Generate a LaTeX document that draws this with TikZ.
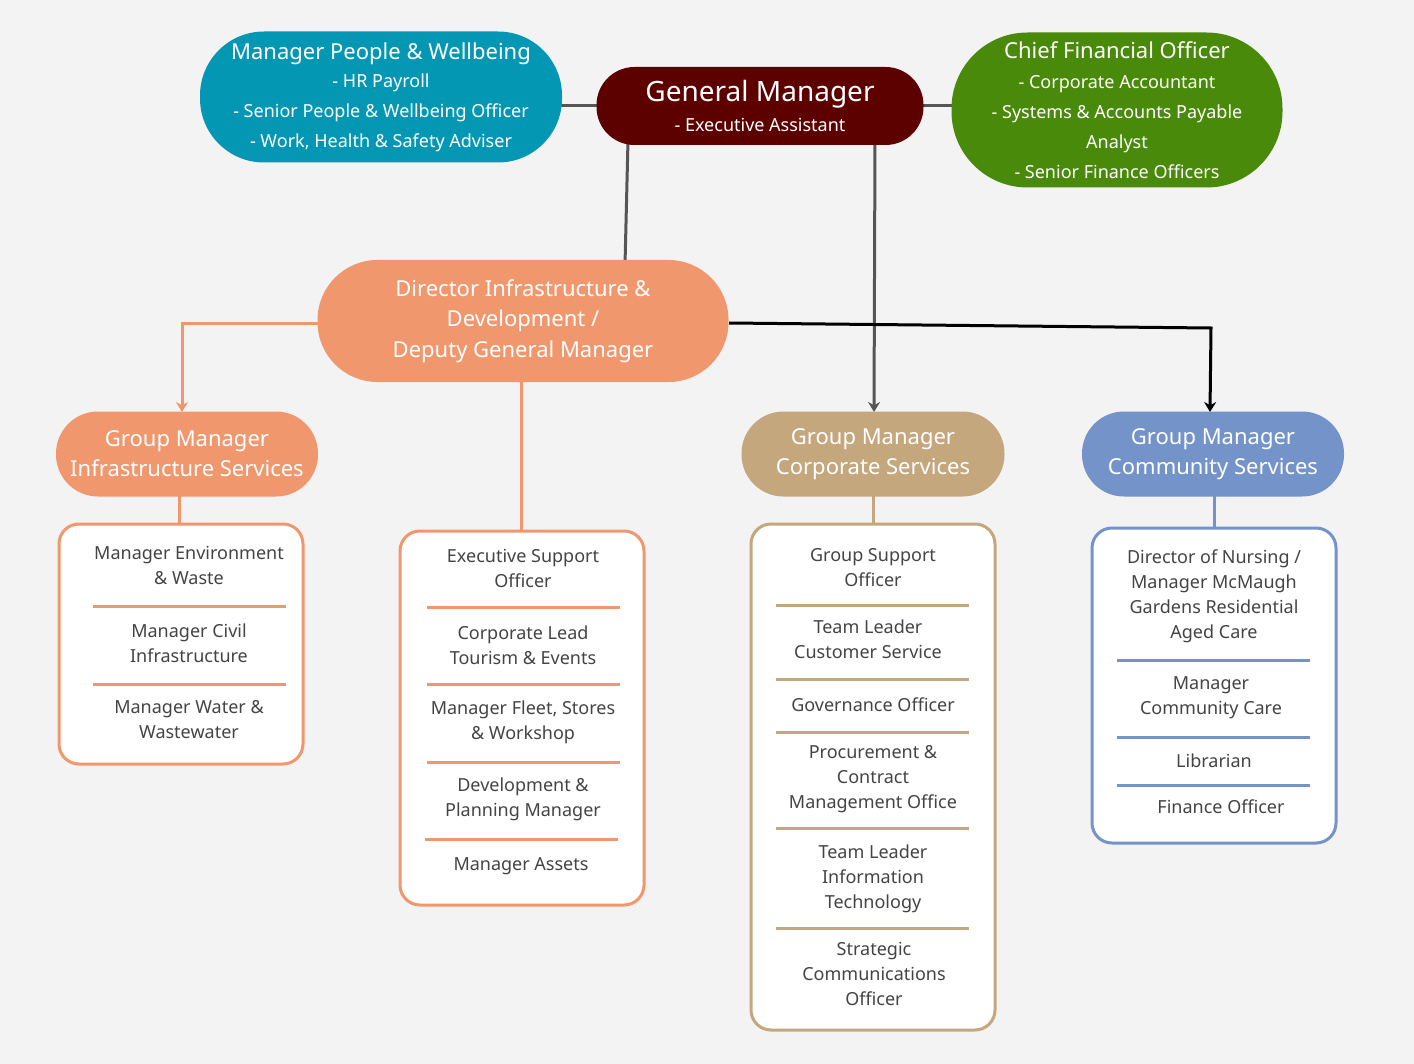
\documentclass[tikz,border=0pt]{standalone}
\usepackage{fontspec}
\setmainfont{Noto Sans}
\usetikzlibrary{arrows.meta}
\definecolor{bg}{HTML}{F3F3F3}
\definecolor{teal}{HTML}{0497B4}
\definecolor{maroon}{HTML}{5C0000}
\definecolor{grn}{HTML}{4A8A0A}
\definecolor{salmon}{HTML}{F0976E}
\definecolor{tan}{HTML}{C4A77D}
\definecolor{blu}{HTML}{7393C9}
\definecolor{txt}{HTML}{444444}
\definecolor{conn}{HTML}{555555}
\begin{document}
\begin{tikzpicture}[x=0.5pt,y=-0.5pt,
  pill/.style={draw=none,text=white,align=center,inner sep=0pt,font=\fontsize{11}{15}\selectfont},
  box/.style={draw=#1,line width=1.5pt,fill=white,rounded corners=10pt},
  sep/.style={draw=#1,line width=1.5pt},
  it/.style={text=txt,align=center,font=\fontsize{9}{12.5}\selectfont},
  con/.style={draw=conn,line width=1.5pt},
  arr/.style={-{Stealth[length=5pt,width=6pt]}}]
\useasboundingbox[fill=bg] (0,0) rectangle (1414,1064);
% connectors first
\coordinate (c1) at (628,140);
\coordinate (c2) at (625,265);
\coordinate (c3) at (875,140);
\coordinate (c4) at (729,323);
\coordinate (c5) at (1211,328);
\coordinate (c6) at (323,324);
\coordinate (c7) at (182,324);
\draw[con] (480,106) -- (1050,106);
\draw[con] (c1) -- (c2);
\draw[con,arr] (c3) -- (874,412);
\draw[black,line width=1.5pt,arr] (c4) -- (c5) -- (1210,412);
\draw[salmon,line width=1.5pt,arr] (c6) -- (c7) -- (182,412);
\draw[salmon,line width=1.5pt] (521,380) -- (521,531);
\draw[salmon,line width=1.5pt] (179,495) -- (179,524);
\draw[tan,line width=1.5pt] (873,495) -- (873,524);
\draw[blu,line width=1.5pt] (1214,495) -- (1214,528);
% top nodes
\node[pill,fill=teal,minimum width=181pt,minimum height=65.5pt,rounded corners=32pt] (mpw) at (381,97)
 {{\fontsize{11}{14}\selectfont Manager People \& Wellbeing}\\[-1pt]{\fontsize{9}{12.5}\selectfont - HR Payroll}\\{\fontsize{9}{12.5}\selectfont - Senior People \& Wellbeing Officer}\\{\fontsize{9}{12.5}\selectfont - Work, Health \& Safety Adviser}};
\node[pill,fill=maroon,minimum width=163.5pt,minimum height=39pt,rounded corners=19pt] (gm) at (760,106)
 {{\fontsize{14}{17}\selectfont General Manager}\\{\fontsize{9}{12}\selectfont - Executive Assistant}};
\node[pill,fill=grn,minimum width=165.5pt,minimum height=77.5pt,rounded corners=38pt] (cfo) at (1117,110)
 {{\fontsize{11}{14}\selectfont Chief Financial Officer}\\{\fontsize{9}{12.3}\selectfont - Corporate Accountant}\\{\fontsize{9}{12.3}\selectfont - Systems \& Accounts Payable}\\{\fontsize{9}{12.3}\selectfont Analyst}\\{\fontsize{9}{12.3}\selectfont - Senior Finance Officers}};
\node[pill,fill=salmon,minimum width=205.5pt,minimum height=61pt,rounded corners=30pt,font=\fontsize{11}{15.3}\selectfont] (dir) at (523,321)
 {Director Infrastructure \&\\Development /\\Deputy General Manager};
\node[pill,fill=salmon,minimum width=131pt,minimum height=42.5pt,rounded corners=21pt] (gmi) at (187,454) {Group Manager\\Infrastructure Services};
\node[pill,fill=tan,minimum width=131.5pt,minimum height=42.5pt,rounded corners=21pt] (gmc) at (873,454) {Group Manager\\Corporate Services};
\node[pill,fill=blu,minimum width=131pt,minimum height=42.5pt,rounded corners=21pt] (gmm) at (1213,454) {Group Manager\\Community Services};
% boxes
\draw[box=salmon] (59,524) rectangle (303,764);
\draw[box=salmon] (400,531) rectangle (644,905);
\draw[box=tan] (751,524) rectangle (995,1030);
\draw[box=blu] (1092,528) rectangle (1336,843);
% infra
\node[it] (i1) at (189,565) {Manager Environment\\\& Waste};
\draw[sep=salmon] (93,606) -- (286,606);
\node[it] (i2) at (189,643) {Manager Civil\\Infrastructure};
\draw[sep=salmon] (93,684) -- (286,684);
\node[it] (i3) at (189,720) {Manager Water \&\\Wastewater};
% dir
\node[it] (d1) at (523,568) {Executive Support\\Officer};
\draw[sep=salmon] (427,607) -- (620,607);
\node[it] (d2) at (523,645) {Corporate Lead\\Tourism \& Events};
\draw[sep=salmon] (427,684) -- (620,684);
\node[it] (d3) at (523,722) {Manager Fleet, Stores\\\& Workshop};
\draw[sep=salmon] (427,762) -- (620,762);
\node[it] (d4) at (523,799) {Development \&\\Planning Manager};
\draw[sep=salmon] (425,839) -- (618,839);
\node[it] (d5) at (521,866) {Manager Assets};
% corp
\node[it] (p1) at (873,568) {Group Support\\Officer};
\draw[sep=tan] (776,605) -- (969,605);
\node[it] (p2) at (868,639) {Team Leader\\Customer Service};
\draw[sep=tan] (776,679) -- (969,679);
\node[it] (p3) at (873,705) {Governance Officer};
\draw[sep=tan] (776,732) -- (969,732);
\node[it] (p4) at (873,779) {Procurement \&\\Contract\\Management Office};
\draw[sep=tan] (776,828) -- (969,828);
\node[it] (p5) at (873,879) {Team Leader\\Information\\Technology};
\draw[sep=tan] (776,928) -- (969,928);
\node[it] (p6) at (874,974) {Strategic\\Communications\\Officer};
% comm
\node[it] (m1) at (1214,596) {Director of Nursing /\\Manager McMaugh\\Gardens Residential\\Aged Care};
\draw[sep=blu] (1117,660) -- (1310,660);
\node[it] (m2) at (1211,698) {Manager\\Community Care};
\draw[sep=blu] (1117,737) -- (1310,737);
\node[it] (m3) at (1214,761) {Librarian};
\draw[sep=blu] (1117,785) -- (1310,785);
\node[it] (m4) at (1221,807) {Finance Officer};
\end{tikzpicture}
\end{document}
